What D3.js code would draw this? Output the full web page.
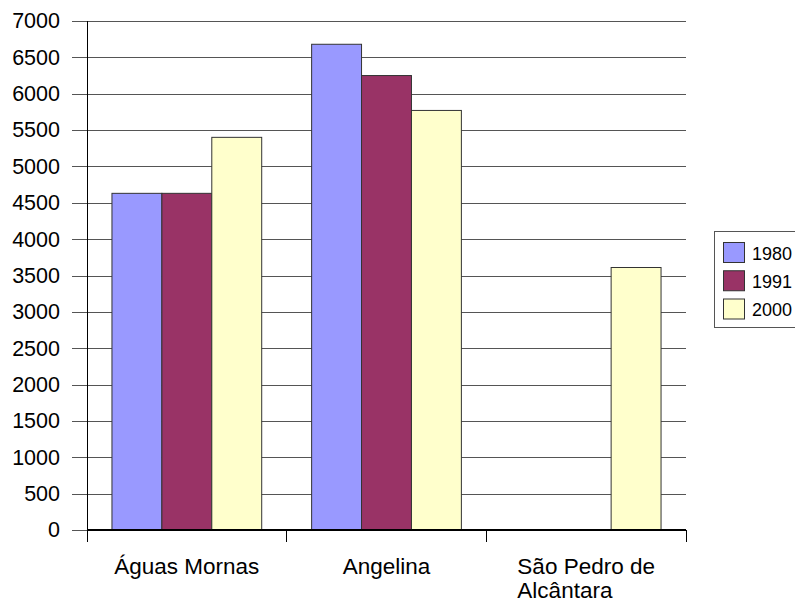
<!DOCTYPE html>
<html>
<head>
<meta charset="utf-8">
<script src="https://cdn.jsdelivr.net/npm/d3@7"></script>
<style>
  html, body { margin: 0; padding: 0; background: #fff; }
  svg { display: block; font-family: "Liberation Sans", Arial, sans-serif; }
</style>
</head>
<body>
<svg id="chart" width="795" height="602"></svg>
<script>
// Population by municipality and census year
const categories = ["Águas Mornas", "Angelina", "São Pedro de Alcântara"];
const categoryLines = [["Águas Mornas"], ["Angelina"], ["São Pedro de", "Alcântara"]];
const seriesNames = ["1980", "1991", "2000"];
const values1980 = [4630, 6680, null];
const values1991 = [4630, 6250, null];
const values2000 = [5400, 5770, 3610];
const yTicks = [0, 500, 1000, 1500, 2000, 2500, 3000, 3500, 4000, 4500, 5000, 5500, 6000, 6500, 7000];
const colors = ["#9999FF", "#993366", "#FFFFCC"];

const seriesValues = [values1980, values1991, values2000];
const rows = [];
categories.forEach((c, i) => {
  seriesNames.forEach((s, j) => {
    if (seriesValues[j][i] != null) rows.push({ category: c, series: s, value: seriesValues[j][i], color: colors[j] });
  });
});

const svg = d3.select("#chart");
const plot = { left: 87, right: 686, top: 21, bottom: 530 };

const x = d3.scaleBand().domain(categories).range([plot.left, plot.right]).padding(0);
const bw = x.bandwidth();
const xInner = d3.scaleBand().domain(seriesNames).range([bw * 0.125, bw * 0.875]).padding(0);
const y = d3.scaleLinear().domain([0, 7000]).range([plot.bottom, plot.top]);

// Horizontal gridlines with outward tick marks
const yAxis = d3.axisLeft(y).tickValues(yTicks).tickSize(plot.right - plot.left + 15).tickPadding(12).tickFormat(d3.format("d"));
const gy = svg.append("g").attr("transform", `translate(${plot.right},0)`).call(yAxis);
gy.select(".domain").remove();
gy.selectAll(".tick line").attr("stroke", "#555").attr("stroke-width", 1).attr("shape-rendering", "crispEdges");
gy.selectAll(".tick text").attr("font-size", "21.5px").attr("fill", "#000")
  .attr("font-family", "Liberation Sans, Arial, sans-serif");

// Bars
svg.append("g").selectAll("rect").data(rows).enter().append("rect")
  .attr("x", d => x(d.category) + xInner(d.series))
  .attr("y", d => y(d.value))
  .attr("width", xInner.bandwidth())
  .attr("height", d => y(0) - y(d.value))
  .attr("fill", d => d.color)
  .attr("stroke", "#333")
  .attr("stroke-width", 1);

// Vertical axis line
svg.append("line").attr("x1", plot.left).attr("x2", plot.left).attr("y1", y(7000)).attr("y2", y(0))
  .attr("stroke", "#000").attr("stroke-width", 1).attr("shape-rendering", "crispEdges");

// Category axis with boundary ticks
svg.append("line").attr("x1", plot.left).attr("x2", plot.right).attr("y1", plot.bottom).attr("y2", plot.bottom)
  .attr("stroke", "#000").attr("stroke-width", 2);
const boundaries = categories.map(c => x(c)).concat([x(categories[categories.length - 1]) + bw]);
svg.append("g").selectAll("line").data(boundaries).enter().append("line")
  .attr("x1", d => d).attr("x2", d => d).attr("y1", plot.bottom).attr("y2", plot.bottom + 12)
  .attr("stroke", "#000").attr("stroke-width", 1).attr("shape-rendering", "crispEdges");

// Category labels (multi-line labels share a left edge)
const labelGroup = svg.append("g");
categories.forEach((c, i) => {
  const cx = x(c) + bw / 2;
  const t = labelGroup.append("text").attr("font-size", "22.5px").attr("fill", "#000");
  categoryLines[i].forEach((line, k) => {
    t.append("tspan").attr("x", 0).attr("y", 574 + k * 24).text(line);
  });
  const w = d3.max(t.selectAll("tspan").nodes(), n => n.getComputedTextLength());
  t.selectAll("tspan").attr("x", cx - w / 2);
});

// Legend
const legend = svg.append("g");
legend.append("rect").attr("x", 714.5).attr("y", 231.5).attr("width", 90).attr("height", 96)
  .attr("fill", "#fff").attr("stroke", "#555").attr("stroke-width", 1);
const legendY = d3.scalePoint().domain(seriesNames).range([252.5, 309]);
seriesNames.forEach((s, j) => {
  const cy = legendY(s);
  legend.append("rect").attr("x", 723.5).attr("y", cy - 10).attr("width", 21).attr("height", 20)
    .attr("fill", colors[j]).attr("stroke", "#333").attr("stroke-width", 1);
  legend.append("text").attr("x", 752).attr("y", cy + 7).attr("font-size", "19px")
    .attr("textLength", 40).attr("lengthAdjust", "spacingAndGlyphs").attr("fill", "#000").text(s);
});
</script>
</body>
</html>
